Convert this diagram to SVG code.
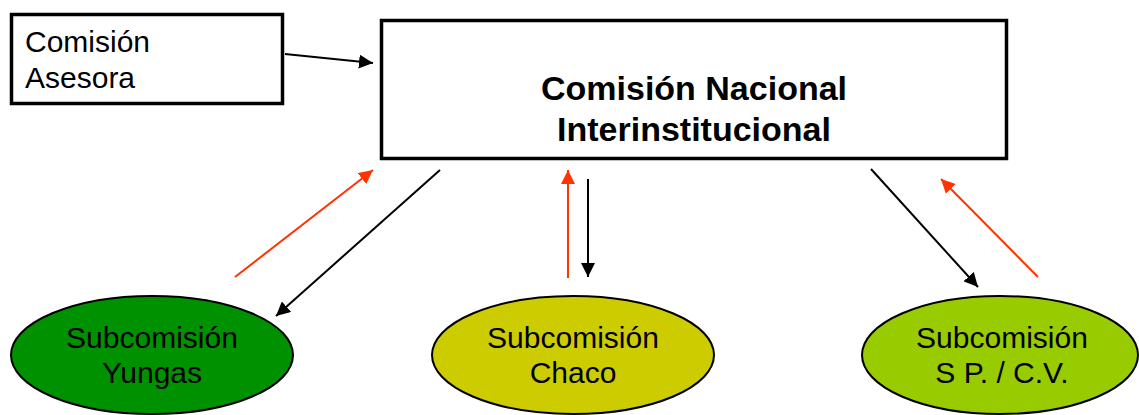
<svg xmlns="http://www.w3.org/2000/svg" width="1139" height="415" viewBox="0 0 1139 415">
<style>
.box{fill:#fff;stroke:#000;stroke-width:3.5}
.ell{stroke:#000;stroke-width:2}
.t{font-family:"Liberation Sans",Arial,sans-serif;font-size:30px;fill:#000}
.b{font-weight:bold;font-size:34px}
.k{stroke:#000;stroke-width:2;fill:none}
.r{stroke:#FF3300;stroke-width:2;fill:none}
</style>
<defs>
<marker id="ak" viewBox="0 0 10 10" refX="10" refY="5" markerWidth="14" markerHeight="14" markerUnits="userSpaceOnUse" orient="auto"><path d="M0,0L10,5L0,10z" fill="#000"/></marker>
<marker id="ar" viewBox="0 0 10 10" refX="10" refY="5" markerWidth="14" markerHeight="14" markerUnits="userSpaceOnUse" orient="auto"><path d="M0,0L10,5L0,10z" fill="#FF3300"/></marker>
</defs>
<g id="asesora">
<rect class="box" x="11.5" y="14.5" width="271" height="89"/>
<text class="t" x="25" y="52">Comisión</text>
<text class="t" x="25" y="88">Asesora</text>
</g>
<g id="nacional">
<rect class="box" x="381.5" y="20.5" width="625" height="138"/>
<text class="t b" x="694" y="100" text-anchor="middle">Comisión Nacional</text>
<text class="t b" x="694" y="141" text-anchor="middle">Interinstitucional</text>
</g>
<g id="yungas">
<ellipse class="ell" cx="152" cy="355" rx="141" ry="59" fill="#009100"/>
<text class="t" x="152" y="348" text-anchor="middle">Subcomisión</text>
<text class="t" x="152" y="383" text-anchor="middle">Yungas</text>
</g>
<g id="chaco">
<ellipse class="ell" cx="573" cy="355" rx="141" ry="59" fill="#CCCC00"/>
<text class="t" x="573" y="348" text-anchor="middle">Subcomisión</text>
<text class="t" x="573" y="383" text-anchor="middle">Chaco</text>
</g>
<g id="spcv">
<ellipse class="ell" cx="1000" cy="355" rx="138" ry="59" fill="#99CC00"/>
<text class="t" x="1002" y="348" text-anchor="middle">Subcomisión</text>
<text class="t" x="1002" y="383" text-anchor="middle">S P. / C.V.</text>
</g>
<g id="connectors">
<line class="k" x1="285" y1="54" x2="373" y2="63" marker-end="url(#ak)"/>
<line class="r" x1="235" y1="277" x2="373" y2="170" marker-end="url(#ar)"/>
<line class="k" x1="440" y1="170" x2="276" y2="316" marker-end="url(#ak)"/>
<line class="r" x1="568" y1="278" x2="568" y2="170" marker-end="url(#ar)"/>
<line class="k" x1="588" y1="179" x2="588" y2="277" marker-end="url(#ak)"/>
<line class="k" x1="871" y1="169" x2="978" y2="287" marker-end="url(#ak)"/>
<line class="r" x1="1038" y1="277" x2="941" y2="179" marker-end="url(#ar)"/>
</g>
</svg>
